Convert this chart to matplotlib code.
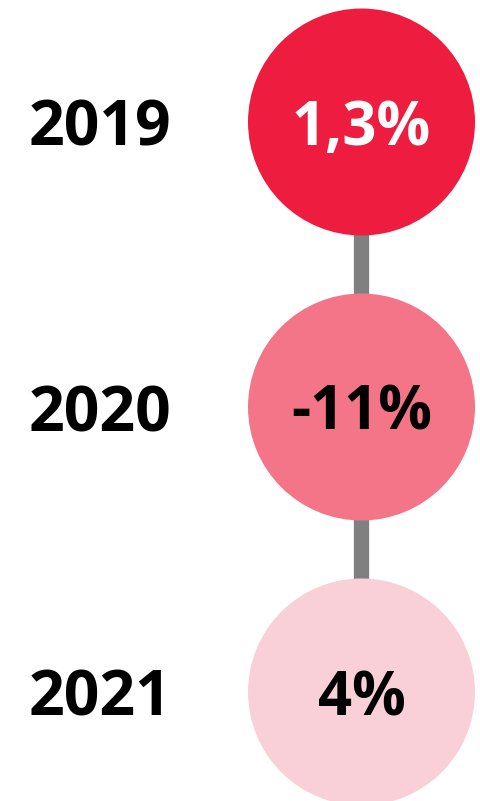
import matplotlib.pyplot as plt
from matplotlib.patches import Circle

# data
years = ['2019', '2020', '2021']
values = [1.3, -11, 4]
labels = ['1,3%', '-11%', '4%']
fills = ['#EE1C3F', '#F37587', '#F9D0D8']
text_colors = ['white', 'black', 'black']

W, H = 481, 801
fig = plt.figure(figsize=(W / 100, H / 100), dpi=100)
ax = fig.add_axes([0, 0, 1, 1])
ax.set_xlim(0, W)
ax.set_ylim(H, 0)
ax.set_aspect('equal')
ax.axis('off')

cx = 361.5
r = 113.5
ys = [122 + i * 285 for i in range(len(years))]

# connectors
for i in range(len(ys) - 1):
    ax.plot([cx, cx], [ys[i], ys[i + 1]], color='#808080', lw=11, solid_capstyle='butt', zorder=1)

for i, (yr, lab) in enumerate(zip(years, labels)):
    ax.add_patch(Circle((cx, ys[i]), r, facecolor=fills[i], edgecolor='none', zorder=2))
    ax.text(cx, ys[i], lab, ha='center', va='center_baseline', fontsize=43,
            fontweight='bold', family='Open Sans', color=text_colors[i], zorder=3)
    ax.text(100, ys[i], yr, ha='center', va='center_baseline', fontsize=45,
            fontweight='bold', family='Open Sans', color='black')

fig.savefig('out.png', dpi=100)
